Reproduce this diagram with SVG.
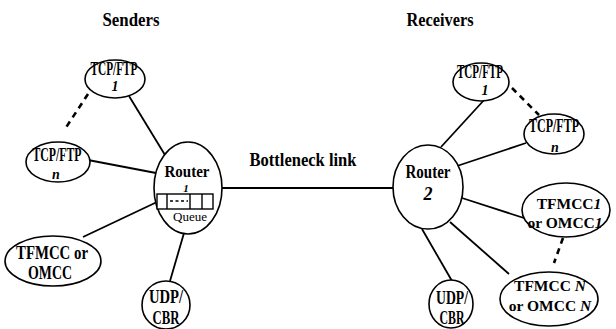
<svg xmlns="http://www.w3.org/2000/svg" width="616" height="329" viewBox="0 0 616 329">
<style>
  .n { fill: #fff; stroke: #000; stroke-width: 1.6; }
  .t { font-family: "Liberation Serif", "Times New Roman", serif; font-weight: bold; font-size: 18px; text-anchor: middle; fill: #000; }
  .m { font-size: 15.5px; }
  .h { font-family: "Liberation Serif", "Times New Roman", serif; font-weight: bold; font-size: 19px; text-anchor: middle; fill: #000; }
  .i { font-style: italic; }
  .q { font-family: "Liberation Serif", "Times New Roman", serif; font-size: 13px; text-anchor: middle; fill: #000; }
  .c line { stroke: #000; stroke-width: 1.8; }
  .c line.d { stroke-width: 2.6; stroke-dasharray: 6 5; }
  .qb { stroke: #000; stroke-width: 1.4; fill: #fff; }
</style>
<rect width="616" height="329" fill="#fff"/>
<text class="h" x="131" y="26" textLength="57" lengthAdjust="spacingAndGlyphs">Senders</text>
<text class="h" x="440" y="26" textLength="67" lengthAdjust="spacingAndGlyphs">Receivers</text>
<text class="h" x="303" y="166" textLength="107" lengthAdjust="spacingAndGlyphs">Bottleneck link</text>

<g class="c" id="connectors">
  <line x1="129" y1="96" x2="165" y2="155"/>
  <line class="d" x1="88" y1="94" x2="65" y2="129"/>
  <line x1="88" y1="160" x2="156" y2="173"/>
  <line x1="83" y1="237" x2="157" y2="202"/>
  <line x1="170" y1="281" x2="184" y2="233"/>
  <line x1="221" y1="188" x2="394" y2="188"/>
  <line x1="441" y1="147" x2="485" y2="99"/>
  <line class="d" x1="512" y1="88" x2="539" y2="115"/>
  <line x1="457" y1="166" x2="526" y2="143"/>
  <line x1="462" y1="198" x2="527" y2="219"/>
  <line class="d" x1="563" y1="238" x2="554" y2="263"/>
  <line x1="450" y1="222" x2="509" y2="274"/>
  <line x1="422" y1="229" x2="452" y2="281"/>
</g>

<g id="s_tcp1">
  <ellipse class="n" cx="115" cy="79" rx="30" ry="19"/>
  <text class="t" x="114" y="75" textLength="47" lengthAdjust="spacingAndGlyphs">TCP/FTP</text>
  <text class="t i" x="115" y="91" style="font-size:14px">1</text>
</g>
<g id="s_tcpn">
  <ellipse class="n" cx="58" cy="162" rx="32" ry="20"/>
  <text class="t" x="57" y="161" textLength="49" lengthAdjust="spacingAndGlyphs">TCP/FTP</text>
  <text class="t i" x="56" y="179" style="font-size:14px">n</text>
</g>
<g id="s_tfmcc">
  <ellipse class="n" cx="53" cy="261" rx="48" ry="25"/>
  <text class="t" x="52" y="259" textLength="72" lengthAdjust="spacingAndGlyphs">TFMCC or</text>
  <text class="t" x="50" y="279" textLength="44" lengthAdjust="spacingAndGlyphs">OMCC</text>
</g>
<g id="s_udp">
  <ellipse class="n" cx="166" cy="305" rx="24" ry="24"/>
  <text class="t" x="166" y="303" textLength="34" lengthAdjust="spacingAndGlyphs">UDP/</text>
  <text class="t" x="166" y="324" textLength="27" lengthAdjust="spacingAndGlyphs">CBR</text>
</g>
<g id="router1">
  <ellipse class="n" cx="188" cy="188" rx="34" ry="46"/>
  <text class="t" x="187" y="177" textLength="45" lengthAdjust="spacingAndGlyphs" style="font-size:16px">Router</text>
  <text class="t i" x="186" y="192" style="font-size:11px">1</text>
  <rect class="qb" x="157" y="194" width="56" height="15"/>
  <line class="qb" x1="167" y1="194" x2="167" y2="209"/>
  <line class="qb" x1="190" y1="194" x2="190" y2="209"/>
  <line class="qb" x1="202" y1="194" x2="202" y2="209"/>
  <line class="qb" x1="170" y1="201" x2="188" y2="201" stroke-dasharray="3 2.5"/>
  <text class="q" x="190" y="221" textLength="34" lengthAdjust="spacingAndGlyphs">Queue</text>
</g>
<g id="router2">
  <ellipse class="n" cx="428" cy="187" rx="35" ry="42"/>
  <text class="t" x="428" y="178" textLength="45" lengthAdjust="spacingAndGlyphs">Router</text>
  <text class="t i" x="428" y="200">2</text>
</g>
<g id="r_tcp1">
  <ellipse class="n" cx="481" cy="82" rx="28" ry="19"/>
  <text class="t" x="480" y="78" textLength="46" lengthAdjust="spacingAndGlyphs">TCP/FTP</text>
  <text class="t i" x="485" y="95" style="font-size:14px">1</text>
</g>
<g id="r_tcpn">
  <ellipse class="n" cx="554" cy="134" rx="30" ry="20"/>
  <text class="t" x="554" y="132" textLength="50" lengthAdjust="spacingAndGlyphs">TCP/FTP</text>
  <text class="t i" x="555" y="152" style="font-size:14px">n</text>
</g>
<g id="r_tfmcc1">
  <ellipse class="n" cx="566" cy="210" rx="44" ry="27"/>
  <text class="t m" x="569" y="209">TFMCC<tspan class="i">1</tspan></text>
  <text class="t m" x="565" y="228">or OMCC<tspan class="i">1</tspan></text>
</g>
<g id="r_tfmccn">
  <ellipse class="n" cx="549" cy="299" rx="49" ry="27"/>
  <text class="t m" x="550" y="291">TFMCC <tspan class="i">N</tspan></text>
  <text class="t m" x="550" y="311">or OMCC <tspan class="i">N</tspan></text>
</g>
<g id="r_udp">
  <ellipse class="n" cx="451" cy="304" rx="22" ry="24"/>
  <text class="t" x="452" y="304" textLength="32" lengthAdjust="spacingAndGlyphs">UDP/</text>
  <text class="t" x="452" y="324" textLength="25" lengthAdjust="spacingAndGlyphs">CBR</text>
</g>
</svg>
